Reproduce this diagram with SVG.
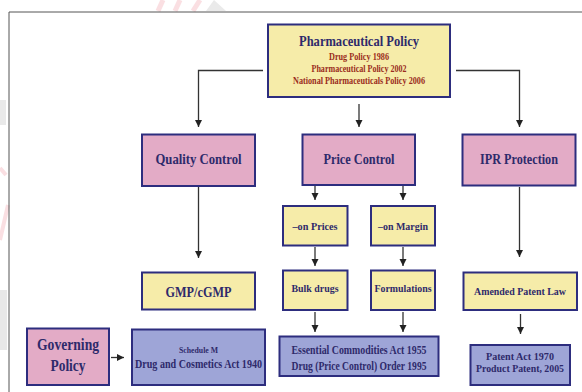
<svg xmlns="http://www.w3.org/2000/svg" width="582" height="392" viewBox="0 0 582 392">
<defs>
<style>
.box{stroke:#2d2d7e;stroke-width:2}
.pink{fill:#e3abc6}
.yel{fill:#f6eca9}
.blue{fill:#9ea5d7}
.t{font-family:"Liberation Serif","Times New Roman",serif;font-weight:bold;fill:#2e2a6b;text-anchor:middle}
.r{font-family:"Liberation Serif","Times New Roman",serif;font-weight:bold;fill:#9a2c20;text-anchor:middle}
.c{fill:none;stroke:#333;stroke-width:1.3}
</style>
<marker id="ah" viewBox="0 0 8 8" refX="8" refY="4" markerWidth="7" markerHeight="8" markerUnits="userSpaceOnUse" orient="auto">
<path d="M0,0 L8,4 L0,8 z" fill="#222"/>
</marker>
</defs>
<rect width="582" height="392" fill="#ffffff"/>
<g id="watermark" opacity="0.55">
<path d="M0,100 L6,100 L6,125 L0,125 z" fill="#d8d8d8"/>
<path d="M0,168 L6,175 M0,240 L8,205" stroke="#f7c6cc" stroke-width="4" fill="none"/>
<rect x="0" y="290" width="7" height="60" fill="#d6d6d6"/>
<path d="M163,0 L158,11 M180,0 L175,11 M200,0 L193,11" stroke="#f7c6cc" stroke-width="5" fill="none"/>
<path d="M214,0 L226,11 L206,11 z" fill="#d9d9d9"/>
</g>
<path d="M9,392 V12 H582" fill="none" stroke="#555" stroke-width="1"/>
<g id="connectors">
<path class="c" d="M263,70.5 H198.5 V127" marker-end="url(#ah)"/>
<path class="c" d="M359,104 V127" marker-end="url(#ah)"/>
<path class="c" d="M456,70.5 H519.5 V127" marker-end="url(#ah)"/>
<path class="c" d="M198.5,187 V258" marker-end="url(#ah)"/>
<path class="c" d="M519.5,187 V257" marker-end="url(#ah)"/>
<path class="c" d="M315,186 V200" marker-end="url(#ah)"/>
<path class="c" d="M403,186 V200" marker-end="url(#ah)"/>
<path class="c" d="M315,247 V266" marker-end="url(#ah)"/>
<path class="c" d="M403,247 V266" marker-end="url(#ah)"/>
<path class="c" d="M315,312 V332" marker-end="url(#ah)"/>
<path class="c" d="M403,312 V332" marker-end="url(#ah)"/>
<path class="c" d="M520.5,314 V334" marker-end="url(#ah)"/>
<path class="c" d="M111,357.5 H124" marker-end="url(#ah)"/>
</g>
<g id="pharma-policy">
<rect class="box yel" x="268" y="24.5" width="182" height="72.5"/>
<text class="t" x="359" y="46" font-size="15" textLength="120" lengthAdjust="spacingAndGlyphs">Pharmaceutical Policy</text>
<text class="r" x="359" y="60" font-size="9.5" textLength="60" lengthAdjust="spacingAndGlyphs">Drug Policy 1986</text>
<text class="r" x="359" y="72.3" font-size="9.5" textLength="95" lengthAdjust="spacingAndGlyphs">Pharmaceutical Policy 2002</text>
<text class="r" x="359" y="84" font-size="9.5" textLength="132" lengthAdjust="spacingAndGlyphs">National Pharmaceuticals Policy 2006</text>
</g>
<g id="quality-control">
<rect class="box pink" x="142" y="134.5" width="113" height="51.5"/>
<text class="t" x="198.5" y="164" font-size="15" textLength="86" lengthAdjust="spacingAndGlyphs">Quality Control</text>
</g>
<g id="price-control">
<rect class="box pink" x="302.5" y="134.5" width="112.5" height="50.5"/>
<text class="t" x="359" y="164" font-size="15" textLength="71" lengthAdjust="spacingAndGlyphs">Price Control</text>
</g>
<g id="ipr-protection">
<rect class="box pink" x="462.5" y="134.5" width="113" height="51"/>
<text class="t" x="519" y="164" font-size="15" textLength="78" lengthAdjust="spacingAndGlyphs">IPR Protection</text>
</g>
<g id="on-prices">
<rect class="box yel" x="283" y="206" width="64.5" height="39.5"/>
<text class="t" x="315" y="229.5" font-size="10.5" textLength="45" lengthAdjust="spacingAndGlyphs">–on Prices</text>
</g>
<g id="on-margin">
<rect class="box yel" x="371" y="206" width="64" height="39.5"/>
<text class="t" x="403" y="229.5" font-size="10.5" textLength="50" lengthAdjust="spacingAndGlyphs">–on Margin</text>
</g>
<g id="gmp">
<rect class="box yel" x="142" y="272.5" width="113" height="37"/>
<text class="t" x="198.5" y="296.5" font-size="14" textLength="66" lengthAdjust="spacingAndGlyphs">GMP/cGMP</text>
</g>
<g id="bulk-drugs">
<rect class="box yel" x="283" y="270.5" width="64.5" height="39.5"/>
<text class="t" x="315" y="292" font-size="10.5" textLength="47" lengthAdjust="spacingAndGlyphs">Bulk drugs</text>
</g>
<g id="formulations">
<rect class="box yel" x="371" y="270.5" width="64" height="39.5"/>
<text class="t" x="403" y="292" font-size="10.5" textLength="57" lengthAdjust="spacingAndGlyphs">Formulations</text>
</g>
<g id="amended-patent-law">
<rect class="box yel" x="463.5" y="272.5" width="113.5" height="37.5"/>
<text class="t" x="520" y="295" font-size="10.5" textLength="92" lengthAdjust="spacingAndGlyphs">Amended Patent Law</text>
</g>
<g id="governing-policy">
<rect class="box pink" x="27" y="328.5" width="82" height="56.5"/>
<text class="t" x="68" y="350" font-size="16" textLength="62" lengthAdjust="spacingAndGlyphs">Governing</text>
<text class="t" x="68" y="371" font-size="16" textLength="35" lengthAdjust="spacingAndGlyphs">Policy</text>
</g>
<g id="schedule-m">
<rect class="box blue" x="132" y="329.5" width="133" height="55.5"/>
<text class="t" x="198.5" y="352.5" font-size="8" textLength="39" lengthAdjust="spacingAndGlyphs">Schedule M</text>
<text class="t" x="198.5" y="367.5" font-size="11.5" textLength="127" lengthAdjust="spacingAndGlyphs">Drug and Cosmetics Act 1940</text>
</g>
<g id="essential-commodities">
<rect class="box blue" x="279.5" y="336.5" width="159" height="39.5"/>
<text class="t" x="359" y="353.5" font-size="11.5" textLength="135" lengthAdjust="spacingAndGlyphs">Essential Commodities Act 1955</text>
<text class="t" x="359" y="370" font-size="11.5" textLength="135" lengthAdjust="spacingAndGlyphs">Drug (Price Control) Order 1995</text>
</g>
<g id="patent-act">
<rect class="box blue" x="470.5" y="345" width="99.5" height="40"/>
<text class="t" x="520" y="359.5" font-size="11" textLength="68" lengthAdjust="spacingAndGlyphs">Patent Act 1970</text>
<text class="t" x="520" y="371.5" font-size="11" textLength="88" lengthAdjust="spacingAndGlyphs">Product Patent, 2005</text>
</g>
</svg>
